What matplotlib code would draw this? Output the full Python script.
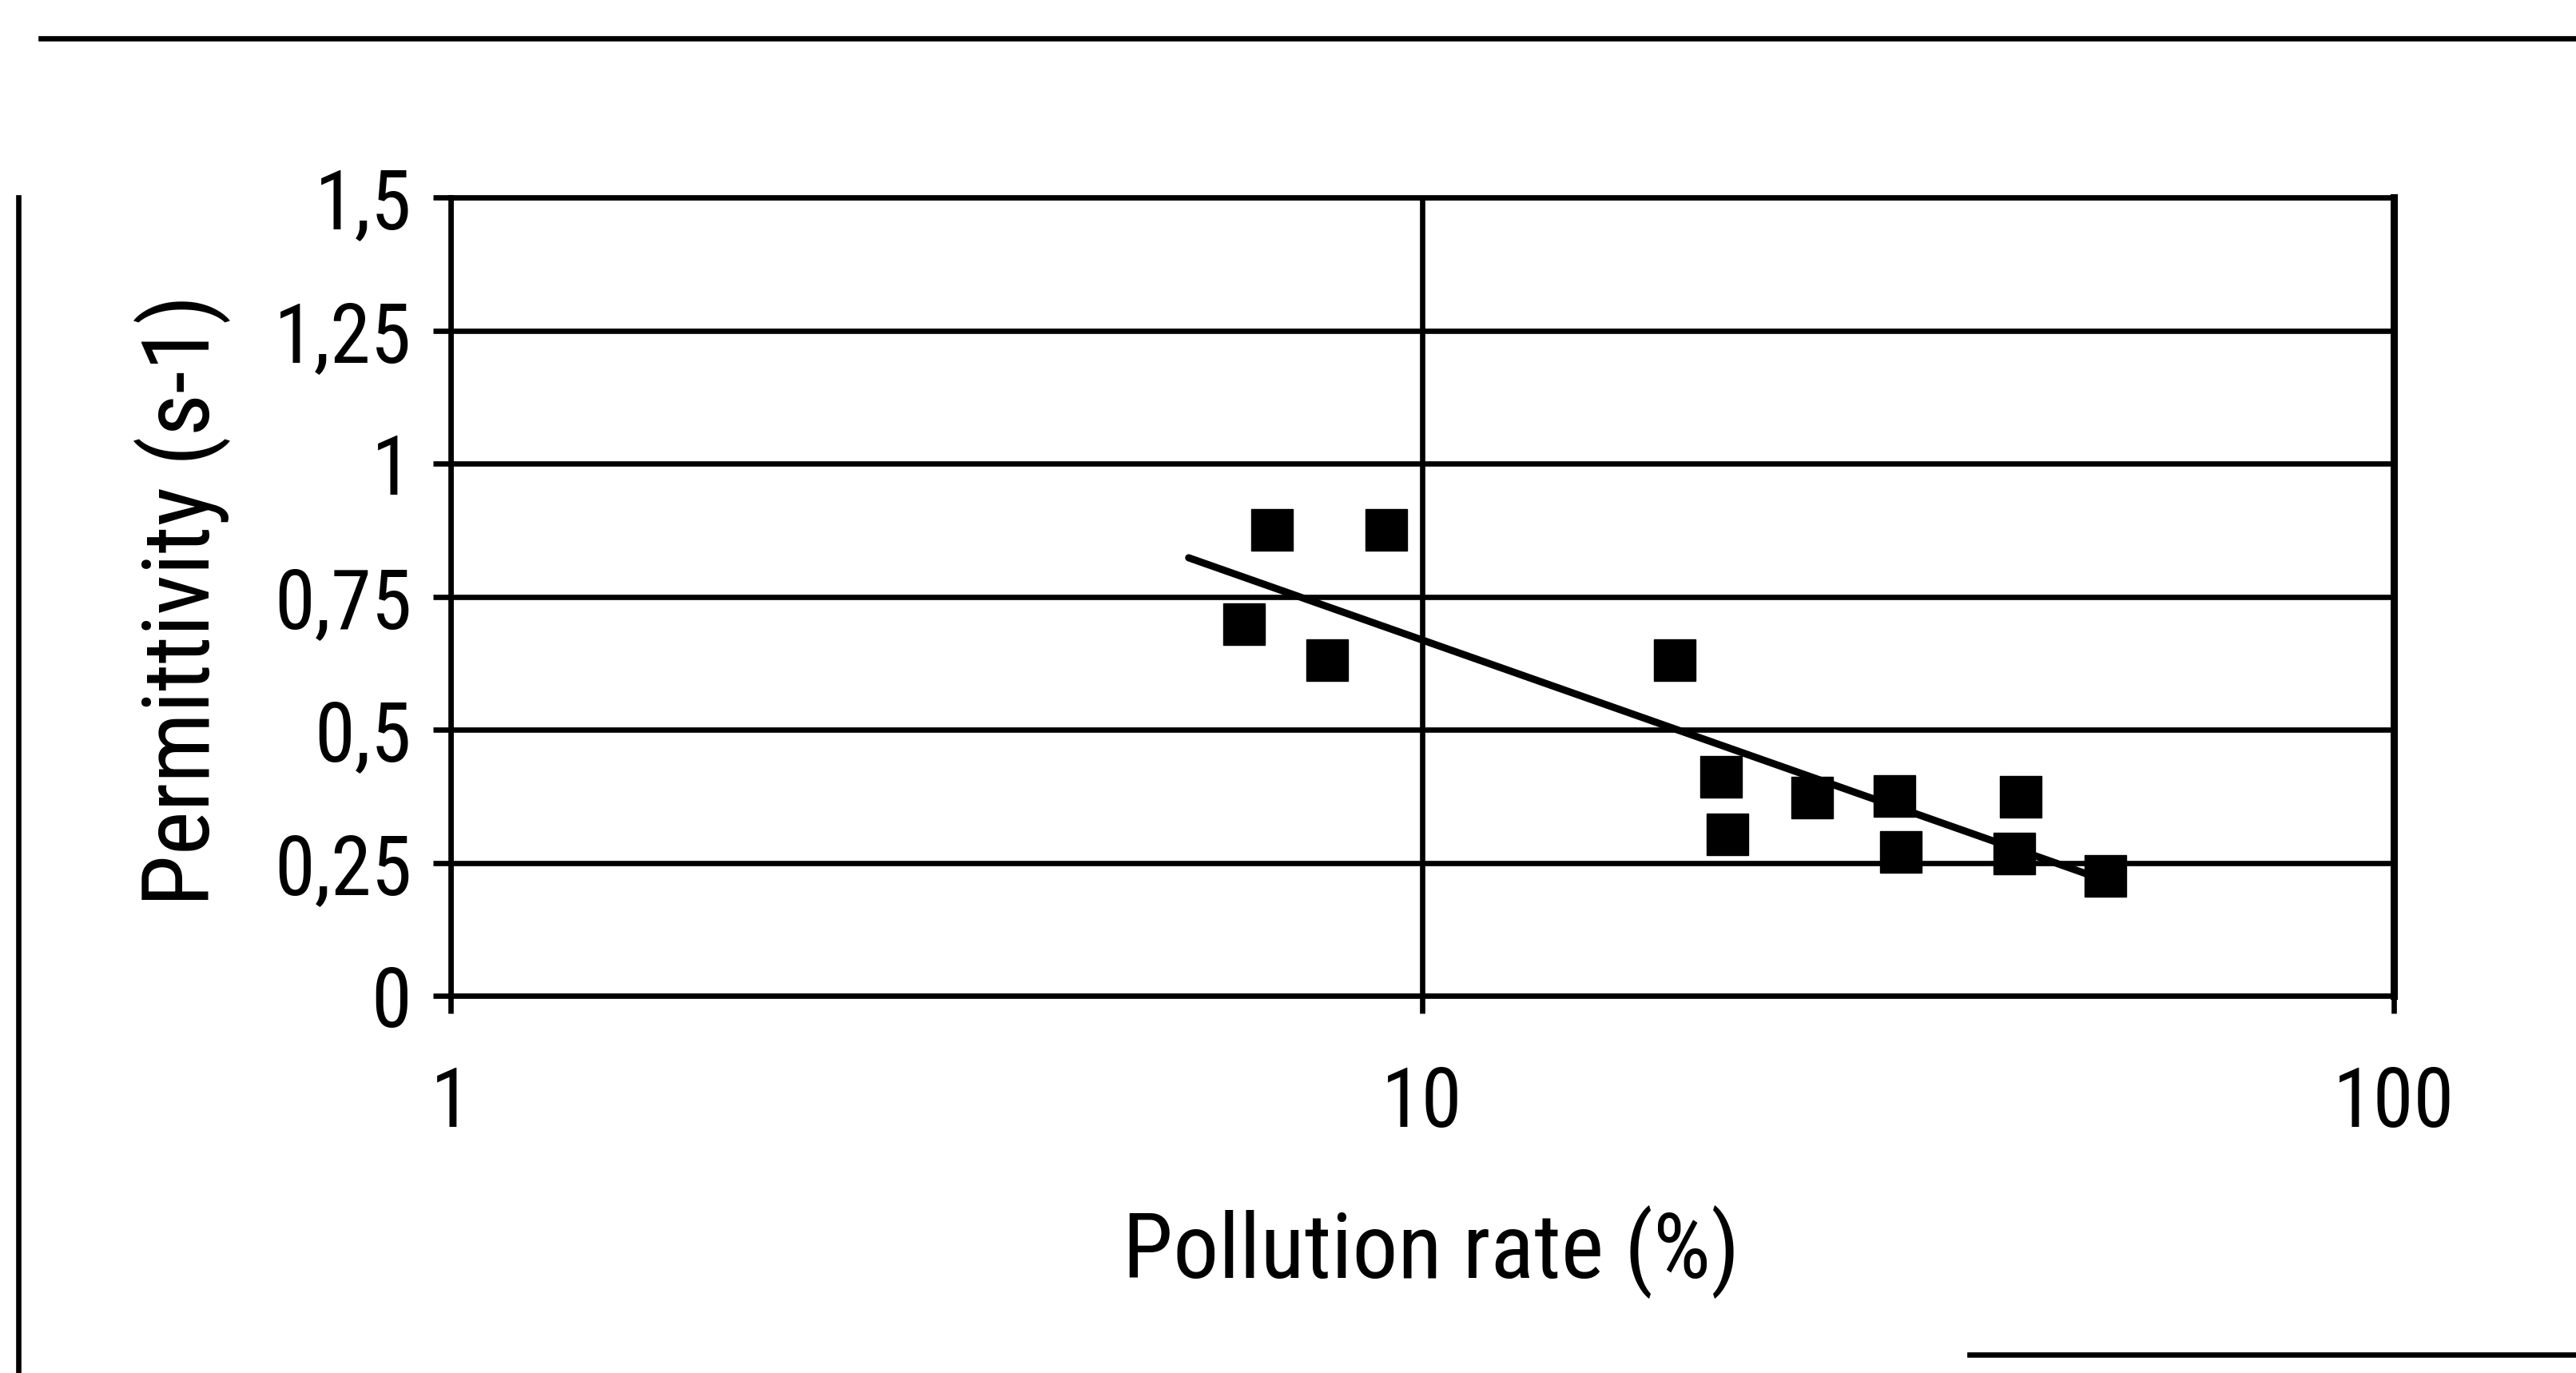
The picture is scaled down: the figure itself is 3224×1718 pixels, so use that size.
import matplotlib
matplotlib.use("Agg")
import matplotlib.pyplot as plt
from matplotlib.lines import Line2D

plt.rcParams["font.family"] = ["Roboto Condensed", "Archivo Narrow", "Liberation Sans", "DejaVu Sans"]

# pollution rate (%) and permittivity (s-1)
pollution = [6.55, 7.0, 7.98, 9.18, 18.2, 20.3, 20.6, 25.2, 30.6, 31.1, 40.7, 41.3, 50.5]
permittivity = [0.698, 0.876, 0.631, 0.875, 0.630, 0.411, 0.303, 0.373, 0.376, 0.270, 0.268, 0.374, 0.225]

# logarithmic trend line, end points as drawn
trend_x = [5.75, 49.0]
trend_y = [0.823, 0.225]

y_ticks = [0, 0.25, 0.5, 0.75, 1, 1.25, 1.5]
y_labels = ["0", "0,25", "0,5", "0,75", "1", "1,25", "1,5"]
x_ticks = [1, 10, 100]
x_labels = ["1", "10", "100"]

LW = 4.8

fig = plt.figure(figsize=(32.24, 17.18), dpi=100)
ax = fig.add_axes([0.1749, 0.2747, 0.7544, 0.5815])

ax.set_xscale("log")
ax.set_xlim(1, 100)
ax.set_ylim(0, 1.5)

ax.grid(True, which="major", color="black", linewidth=LW)
ax.set_axisbelow(True)

ax.plot(pollution, permittivity, linestyle="none", marker="s", markersize=37,
        color="black", zorder=3)
ax.plot(trend_x, trend_y, color="black", linewidth=6.5, solid_capstyle="round", zorder=4)

ax.set_yticks(y_ticks)
ax.set_yticklabels(y_labels)
ax.set_xticks(x_ticks)
ax.set_xticklabels(x_labels)
ax.xaxis.set_minor_locator(matplotlib.ticker.NullLocator())

ax.tick_params(axis="both", direction="out", length=16, width=LW, color="black",
               labelsize=74)
ax.tick_params(axis="x", pad=46)
ax.tick_params(axis="y", pad=19)

for s in ax.spines.values():
    s.set_linewidth(LW)
    s.set_color("black")
ax.spines["right"].set_linewidth(6.5)

ax.set_xlabel("Pollution rate (%)", fontsize=82)
ax.xaxis.set_label_coords(0.5045, -0.262)
ax.set_ylabel("Permittivity (s-1)", fontsize=84)
ax.yaxis.set_label_coords(-0.113, 0.495)

# page frame lines from the scan
fig.add_artist(Line2D([0.0158, 1.0], [0.972, 0.972], color="black", linewidth=LW))
fig.add_artist(Line2D([0.0071, 0.0071], [0.856, 0.0], color="black", linewidth=LW))
fig.add_artist(Line2D([0.7646, 1.0], [0.0134, 0.0134], color="black", linewidth=LW))

fig.savefig("out.png", dpi=100, facecolor="white")
